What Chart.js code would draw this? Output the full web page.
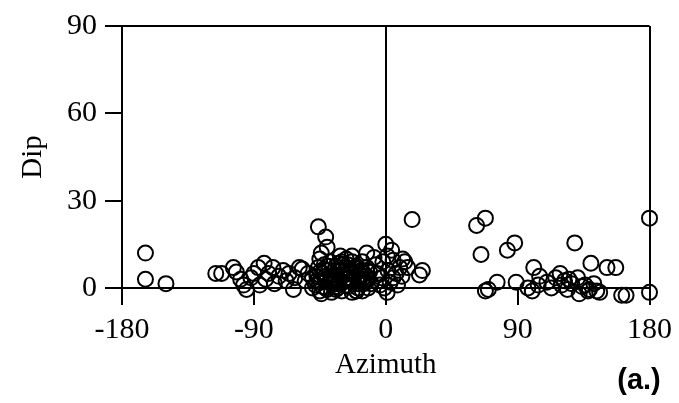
<!DOCTYPE html>
<html>
<head>
<meta charset="utf-8">
<script src="https://cdn.jsdelivr.net/npm/chart.js@4/dist/chart.umd.min.js"></script>
<style>
html,body{margin:0;padding:0;background:#fff;}
#wrap{width:679px;height:403px;}
</style>
</head>
<body>
<div id="wrap"><canvas id="c" width="679" height="403"></canvas></div>
<script>
// Data (azimuth in degrees, dip in degrees)
const azimuth = [
  -164,-164,-150,
  -116,-112,-104,-102,-99,-97,-95,-92,-90,-87,-86,-83,-82,-80,-77,-76,-73,-70,-68,-66,-63,-62,-59,-57,-55,-53,-50,-50,
  -46,-41,-44,-45,-40,
  -48,-47,-46,-45,-44,-43,-42,-41,-40,-39,-38,-37,-36,-35,-34,-33,-32,-31,-30,-30,-29,-28,-27,-26,-25,-24,-23,-23,-22,-21,-20,-19,-18,-17,-16,-16,-15,-14,-13,-12,-12,-11,-44,-38,-34,-27,-20,-31,-23,-13,-8,-6,-10,-7,
  -47,-45,-43,-41,-39,-37,-35,-33,-31,-29,-27,-25,-23,-21,-19,-17,-15,-13,-40,-36,-32,-28,-24,-20,-16,-42,-34,-26,-18,
  0,1,-2,5,11.5,9.5,1.5,-3,5,1,-4,3,7,-1,4,8,13,23,25,18,11,15,
  62,68,65,70,68,76,83,88,89,97,101,100,104,105,110,113,116,119,120,122,124,125,127,129,131,132,134,136,138,139,140,142,144,146,151,157,161,164,180,180
];
const dip = [
  12,3,1.5,
  5,5,7,5.5,3,1,-0.5,3.5,5,7,1,8.5,3,5,7,1.5,4,6,2.5,5,-0.5,3.5,7,6.5,2.5,5,3.5,0,
  21,17.5,12,10,14,
  1,4,7,-1,2,5,8,0,3,6,9,-1.5,1.5,4.5,7.5,0,3,6,9,-1,2,4.5,7,0.5,3.5,6,9,-1.5,2,5,7.5,0,3,6,9,-1,1.5,4,7,0,3,5.5,-2,2,-0.5,10,-1,11,11,12,10.5,5,1.5,8,
  2.5,5.5,0.5,4,7.5,3,6,1.5,4.5,8,1,5,3,7,1.5,4.5,2.5,6,-0.5,2,8.5,3,5,-1,3,6.5,0.5,8,4.5,
  15,11,9,9.5,10,7,6,3.5,3.5,-1.5,1,2,5,0,13,1,9,4.5,6,23.5,4,7,
  21.5,24,11.5,-0.5,-1,2,13,15.5,2,0,7,-1,1,4,2,0,3.5,5,1,2.5,-0.5,3,1.5,15.5,3.5,-2,0.5,1,-1,-0.5,8.5,1.5,-1,-1.5,7,7,-2.5,-2.5,24,-1.5
];
const xTicks = [-180,-90,0,90,180];
const yTicks = [0,30,60,90];
const frameX = [-180,0,180];
const frameY = [0,90];

const points = azimuth.map((a,i)=>({x:a,y:dip[i]}));

const labelPlugin = {
  id:'panelLabel',
  afterDraw(chart){
    const ctx = chart.ctx;
    ctx.save();
    ctx.font = 'bold 29px "Liberation Sans", Arial, sans-serif';
    ctx.fillStyle = '#000';
    ctx.textAlign = 'center';
    ctx.textBaseline = 'middle';
    ctx.fillText('(a.)', 639, 381);
    ctx.restore();
  }
};

const serif = '"Liberation Serif", "Times New Roman", serif';

new Chart(document.getElementById('c'), {
  type:'scatter',
  data:{datasets:[{
    data:points,
    pointRadius:7.5,
    pointHoverRadius:7.5,
    borderColor:'#000',
    backgroundColor:'rgba(0,0,0,0)',
    borderWidth:2,
    clip:false
  }]},
  options:{
    responsive:false,
    animation:false,
    events:[],
    layout:{padding:{top:26,right:29,left:0,bottom:0}},
    plugins:{legend:{display:false},tooltip:{enabled:false}},
    scales:{
      x:{
        type:'linear', min:-180, max:180,
        afterBuildTicks(s){ s.ticks = xTicks.map(v=>({value:v})); },
        afterFit(s){ s.height = 115; },
        ticks:{font:{family:serif,size:30},color:'#000',padding:7,maxRotation:0},
        grid:{
          color:c=>frameX.includes(c.tick.value)?'#000':'rgba(0,0,0,0)',
          lineWidth:2, drawTicks:true, tickColor:'#000', tickLength:17, tickWidth:2
        },
        border:{display:true,color:'#000',width:2},
        title:{display:true,text:'Azimuth',font:{family:serif,size:29},color:'#000',padding:{top:0,bottom:20}}
      },
      y:{
        type:'linear', min:0, max:90,
        afterBuildTicks(s){ s.ticks = yTicks.map(v=>({value:v})); },
        afterFit(s){ s.width = 122; },
        ticks:{font:{family:serif,size:30},color:'#000',padding:8},
        grid:{
          color:c=>frameY.includes(c.tick.value)?'#000':'rgba(0,0,0,0)',
          lineWidth:2, drawTicks:true, tickColor:'#000', tickLength:17, tickWidth:2
        },
        border:{display:true,color:'#000',width:2},
        title:{display:true,text:'Dip',font:{family:serif,size:29},color:'#000',padding:{top:16,bottom:0}}
      }
    }
  },
  plugins:[labelPlugin]
});
</script>
</body>
</html>
